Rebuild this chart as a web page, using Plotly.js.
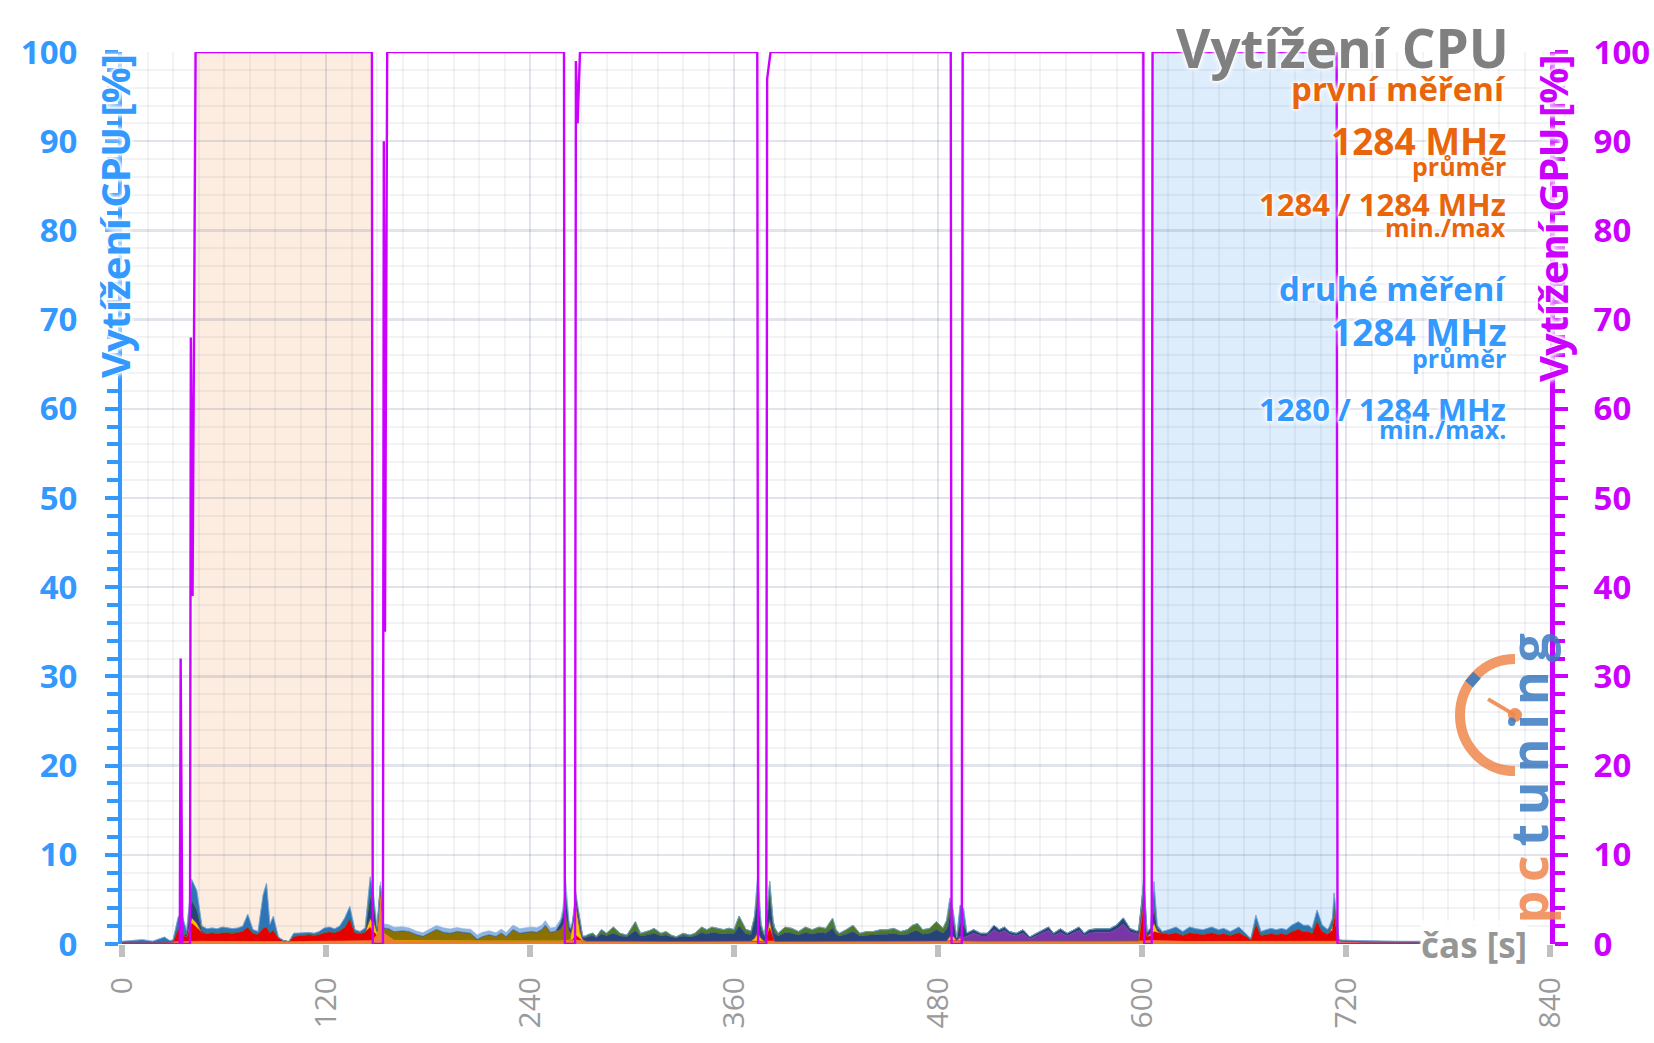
<!DOCTYPE html>
<html><head><meta charset="utf-8">
<script src="https://cdn.plot.ly/plotly-3.0.1.min.js"></script>
<style>html,body{margin:0;padding:0;background:#fff;}#chart{width:1654px;height:1043px;}</style>
</head><body><div id="chart"></div>
<script>
// ---- axis ticks ----
const timeTicks = [0, 120, 240, 360, 480, 600, 720, 840];
const loadTicks = [0, 10, 20, 30, 40, 50, 60, 70, 80, 90, 100];

// ---- text ----
const chartTitle = 'Vytížení CPU';
const cpuAxisTitle = 'Vytížení CPU [%]';
const gpuAxisTitle = 'Vytížení GPU [%]';
const timeLabel = 'čas [s]';
const statsFirst = ['první měření', '1284 MHz', 'průměr', '1284 / 1284 MHz', 'min./max'];
const statsSecond = ['druhé měření', '1284 MHz', 'průměr', '1280 / 1284 MHz', 'min./max.'];

// ---- measured windows [start s, end s] ----
const firstRun = [42, 147];
const secondRun = [606, 714.5];

// ---- CPU load per-core stacked layers: [time s, load %] ----
const cpuOrange = [[0,.2],[10,.25],[20,.2],[30,.25],[36,.3],[42,.35],[50,.3],[60,.3],[70,.35],[80,.3],[90,.3],[100,.25],[110,.3],[120,.3],[130,.3],[140,.3],[147,.4],[150,1.0],[152,6.0],[154,1.2],[160,.4],[180,.35],[200,.3],[220,.35],[240,.3],[260,.35],[266,.5],[270,.35],[290,.3],[310,.3],[330,.3],[350,.3],[370,.35],[380,.3],[400,.3],[420,.3],[440,.3],[460,.3],[480,.3],[490,.4],[500,.3],[520,.3],[540,.3],[560,.3],[580,.3],[600,.35],[606,.4],[620,.3],[640,.3],[660,.3],[680,.3],[700,.3],[714,.35],[730,.25],[750,.2],[764,.2]];
const cpuRed = [[30,0],[33,1.5],[35,.8],[38,.5],[41,2.0],[44,1.5],[47,1.0],[50,.9],[53,1.0],[56,.9],[59,1.0],[62,1.0],[65,.9],[68,1.0],[71,1.1],[74,1.6],[77,.9],[80,.8],[83,1.5],[85,1.6],[87,1.0],[89,1.3],[92,.4],[95,.1],[98,0],[101,.6],[104,.7],[107,.7],[110,.8],[113,.7],[116,.8],[119,1.0],[122,1.1],[125,1.0],[128,1.2],[131,1.6],[134,2.6],[137,1.0],[140,.9],[143,1.0],[146,1.5],[148,.8],[150,0],[265,0],[267,.5],[269,.3],[271,0],[378,0],[381,1.5],[384,0],[598,0],[600,3.0],[601,4.5],[603,.5],[605,.5],[607,1.0],[609,.9],[612,.9],[616,.8],[620,1.0],[624,.7],[628,1.0],[632,.9],[636,.8],[641,1.0],[645,.8],[648,.9],[652,.7],[657,1.0],[661,.6],[664,.2],[667,2.0],[670,.7],[673,.8],[676,.9],[679,.8],[682,.9],[685,.8],[688,1.1],[692,1.4],[695,1.1],[698,1.1],[700,.9],[703,2.3],[706,1.1],[709,.8],[712,1.2],[713,3.0],[715,.5],[716,.05],[718,0]];
const cpuYellow = [[38,0],[41,.6],[44,.5],[47,0],[143,0],[146,1.0],[148,1.0],[150,0],[264,0],[267,3.0],[269,.6],[271,0],[370,0],[372,.3],[374,1.0],[376,.3],[378,0],[379,0],[381,1.0],[383,0],[485,0],[487,.5],[489,.5],[491,0],[493,.3],[495,0],[603,0],[605,.3],[607,1.0],[609,.2],[611,0],[710,0],[713,.8],[715,0]];
const cpuOlive = [[147,0],[150,.5],[154,.6],[157,.9],[161,1.0],[165,1.1],[169,1.0],[173,.7],[177,.5],[181,.9],[185,1.3],[189,1.0],[193,.9],[197,1.1],[201,1.0],[205,.9],[209,.2],[212,.5],[216,.7],[220,.5],[223,.9],[226,.5],[230,1.3],[234,.9],[237,1.0],[241,1.1],[244,1.0],[247,1.3],[249,1.8],[252,1.0],[255,1.1],[258,1.3],[260,2.0],[261,3.0],[263,1.0],[265,.6],[267,.5],[269,.8],[271,.2],[273,0]];
const cpuPurple = [[491,0],[494,.3],[497,.5],[501,.9],[505,.6],[509,.6],[513,1.3],[516,.9],[519,1.2],[522,.8],[526,.6],[530,.9],[534,.3],[538,.6],[542,.9],[545,1.2],[548,.6],[552,1.0],[556,.6],[560,.9],[563,1.2],[566,.6],[569,.9],[573,1.0],[577,1.0],[581,1.0],[585,1.3],[589,1.9],[593,1.0],[597,.8],[599,.5],[601,0]];
const cpuNavy = [[36,0],[38,.3],[41,2.0],[44,1.5],[47,.2],[50,0],[143,0],[146,2.5],[148,2.0],[150,0],[255,0],[259,1.0],[261,2.4],[263,.5],[265,.3],[267,1.0],[269,.8],[271,.2],[274,.5],[277,.6],[279,.4],[282,.8],[285,.6],[289,.9],[293,.6],[297,.5],[302,1.2],[305,.6],[309,.7],[313,.9],[317,.6],[320,.7],[323,.5],[326,.4],[330,.6],[334,.5],[337,.6],[341,1.0],[344,.8],[347,1.0],[350,.9],[354,.8],[357,.9],[360,.8],[363,1.7],[367,.8],[370,.7],[372,2.0],[374,4.0],[376,1.0],[378,.5],[381,2.5],[383,1.0],[386,.6],[390,1.0],[394,.9],[398,.7],[402,1.0],[406,.8],[410,1.0],[414,.9],[418,1.5],[420,.8],[422,.6],[426,.8],[430,1.1],[434,.6],[438,.7],[442,.7],[446,.8],[450,.8],[454,.9],[458,.7],[462,.8],[465,1.1],[468,1.2],[471,.8],[475,.9],[479,1.3],[483,.9],[486,1.5],[487,2.5],[489,1.5],[491,.2],[493,1.5],[495,1.5],[497,.4],[501,.4],[505,.3],[509,.3],[513,.5],[516,.4],[519,.4],[522,.3],[526,.3],[530,.4],[534,.2],[538,.3],[542,.4],[545,.4],[548,.3],[552,.4],[556,.3],[560,.4],[563,.4],[566,.3],[569,.4],[573,.4],[577,.4],[581,.4],[585,.5],[589,.7],[593,.4],[597,.3],[600,1.0],[601,2.0],[603,.3],[605,.5],[607,1.5],[609,.3],[612,0]];
const cpuGreen = [[270,0],[274,.2],[277,.3],[279,.1],[282,.5],[285,.3],[289,.7],[293,.3],[297,.2],[302,1.0],[305,.3],[309,.4],[313,.55],[317,.3],[320,.4],[323,.2],[326,.1],[330,.3],[334,.2],[337,.3],[341,.6],[344,.5],[347,.6],[350,.55],[354,.5],[357,.55],[360,.5],[363,1.1],[367,.5],[370,.4],[372,.4],[374,.5],[376,.5],[378,.2],[381,1.7],[383,.8],[386,.3],[390,.6],[394,.55],[398,.4],[402,.6],[406,.5],[410,.6],[414,.55],[418,1.1],[420,.5],[422,.3],[426,.5],[430,.7],[434,.3],[438,.4],[442,.4],[446,.5],[450,.5],[454,.55],[458,.4],[462,.5],[465,.7],[468,.8],[471,.5],[475,.55],[479,.9],[483,.55],[486,1.2],[487,1.0],[489,.8],[491,.1],[493,0]];
const cpuBlue = [[0,.1],[6,.15],[12,.25],[18,.1],[25,.55],[28,.15],[30,.2],[33,1.2],[35,2.5],[38,.4],[41,2.3],[44,2.15],[47,.5],[50,.5],[53,.5],[56,.5],[59,.6],[62,.5],[65,.5],[68,.45],[71,.55],[74,1.4],[77,.4],[80,.3],[83,3.7],[85,4.9],[87,.9],[89,1.5],[92,.1],[95,0],[98,0],[101,.35],[104,.25],[107,.25],[110,.2],[113,.2],[116,.3],[119,.5],[122,.5],[125,.4],[128,.5],[131,1.0],[134,1.3],[137,.3],[140,.2],[143,.45],[146,2.1],[148,.8],[150,.1],[152,0],[372,0],[374,1.9],[376,0],[485,0],[487,.8],[489,.5],[491,0],[493,2.0],[495,1.8],[497,0],[598,0],[600,.1],[601,.85],[603,.2],[605,.1],[607,3.1],[609,.3],[612,.15],[616,.5],[620,.6],[624,.4],[628,.6],[632,.5],[636,.5],[641,.6],[645,.5],[648,.55],[652,.4],[657,.6],[661,.3],[664,.1],[667,.9],[670,.4],[673,.5],[676,.55],[679,.5],[682,.55],[685,.5],[688,.7],[692,.8],[695,.7],[698,.7],[700,.55],[703,1.2],[706,.7],[709,.5],[712,.8],[713,1.55],[715,1.3],[716,.1],[720,.1],[740,.1],[764,.1]];
const cpuLightBlue = [[145,0],[150,.4],[160,.5],[170,.4],[180,.4],[190,.5],[200,.4],[210,.5],[220,.4],[230,.5],[240,.5],[250,.5],[258,.4],[261,1.5],[264,.3],[268,.4],[272,.1],[275,0]];

// ---- GPU load: [time s, load %] ----
const gpuLoad = [[0,0],[34,0],[34.5,32],[35.5,0],[40,0],[40.5,68],[41.5,39],[43.3,100],[147,100],[147.5,0],[153.5,0],[154,90],[154.7,35],[156,100],[260,100],[260.5,0],[266.5,0],[267,99],[268,92],[269.4,100],[373.7,100],[374.2,0],[379,0],[379.5,97],[381.5,100],[487.5,100],[488,0],[494,0],[494.5,100],[600.8,100],[601.3,0],[605.7,0],[606.2,100],[714.5,100],[715,0],[764,0]];

// ---- styling ----
const BLUE = '#3399ff', MAG = '#cc00ff', ORG = '#e8650c', GRAY = '#808080';
const FONT = 'Open Sans, Noto Sans, sans-serif';
const GLOW = '0 0 3px #fff, 0 0 3px #fff, 0 0 5px #fff, 0 0 6px #fff';
const GLOW_STRONG = '0 0 2px #fff, 0 0 3px #fff, 0 0 4px #fff, 0 0 5px #fff, 0 0 6px #fff, 0 0 7px #fff';
const GRID_MAJ = 'rgba(70,90,130,0.16)', GRID_MIN = 'rgba(70,90,130,0.07)';

const layers = [
  ['orange', cpuOrange, '#ed7d31'],
  ['red', cpuRed, '#e60000'],
  ['yellow', cpuYellow, '#ffc000'],
  ['olive', cpuOlive, '#8c7000'],
  ['purple', cpuPurple, '#7a35a8'],
  ['navy', cpuNavy, '#264478'],
  ['green', cpuGreen, '#4f7a2c'],
  ['blue', cpuBlue, '#2e75b6'],
  ['lightblue', cpuLightBlue, '#8fb4e0']
];

const traces = layers.map(([name, pts, col], i) => {
  const tr = {
    type: 'scatter', name: name,
    x: pts.map(p => p[0]), y: pts.map(p => p[1]),
    stackgroup: 'cpu', mode: 'lines',
    line: {width: 0.6, color: col, shape: 'linear'},
    fillcolor: col, hoverinfo: 'skip', xaxis: 'x', yaxis: 'y'
  };
  if (i === 0) tr.stackgaps = 'interpolate';
  return tr;
});
traces.push({
  type: 'scatter', name: 'GPU', mode: 'lines',
  x: gpuLoad.map(p => p[0]), y: gpuLoad.map(p => p[1]),
  line: {color: MAG, width: 2.4}, hoverinfo: 'skip', xaxis: 'x', yaxis: 'y2'
});

function statAnn(text, y, size, color) {
  return {text: text, xref: 'paper', yref: 'paper', x: 0.9706, y: y, xanchor: 'right', yanchor: 'middle',
    showarrow: false, font: {family: FONT, size: size, color: color, weight: 'bold', shadow: GLOW}};
}
const statY = [0.9593, 0.9010, 0.8719, 0.8293, 0.8035];
const statY2 = [0.7352, 0.6864, 0.6567, 0.6001, 0.5772];
const statSize = [33, 37, 25, 31, 25];

const annotations = [
  {text: chartTitle, xref: 'paper', yref: 'paper', x: 0.9725, y: 1.0053, xanchor: 'right', yanchor: 'middle',
   showarrow: false, font: {family: FONT, size: 53, color: GRAY, weight: 'bold', shadow: GLOW}},
  ...statsFirst.map((s, i) => statAnn(s, statY[i], statSize[i], ORG)),
  ...statsSecond.map((s, i) => statAnn(s, statY2[i], statSize[i], BLUE)),
  {text: cpuAxisTitle, xref: 'paper', yref: 'paper', x: 0, xshift: -8, y: 1, yanchor: 'top', xanchor: 'center',
   textangle: -90, showarrow: false, font: {family: FONT, size: 40, color: BLUE, weight: 'bold', shadow: GLOW_STRONG}},
  {text: gpuAxisTitle, xref: 'paper', yref: 'paper', x: 1, xshift: 2, y: 1, yanchor: 'top', xanchor: 'center',
   textangle: -90, showarrow: false, font: {family: FONT, size: 40, color: MAG, weight: 'bold', shadow: GLOW_STRONG}},
  {text: timeLabel, xref: 'paper', yref: 'paper', x: 0.9846, y: 0, xanchor: 'right', yanchor: 'middle',
   showarrow: false, bgcolor: 'rgba(255,255,255,0.9)', borderpad: 0,
   font: {family: FONT, size: 35, color: '#969696', weight: 'bold', shadow: GLOW}},
  {text: '<span style="color:#f0874e">p\u2009c\u2009</span><span style="color:#3b7bc0">t\u2009u\u2009n\u2009i\u2009n\u2009g</span>',
   xref: 'paper', yref: 'paper', x: 0.9842, y: 0.186, xanchor: 'center', yanchor: 'middle', textangle: -90,
   showarrow: false, opacity: 0.85, font: {family: FONT, size: 52, color: '#3b7bc0', weight: 'bold'}}
];

const shapes = [
  {type: 'rect', layer: 'below', xref: 'x', yref: 'y', x0: firstRun[0], x1: firstRun[1], y0: 0, y1: 100,
   fillcolor: '#fcede0', line: {width: 0}},
  {type: 'rect', layer: 'below', xref: 'x', yref: 'y', x0: secondRun[0], x1: secondRun[1], y0: 0, y1: 100,
   fillcolor: '#deedfc', line: {width: 0}},
  // logo gauge
  {type: 'path', xref: 'paper', yref: 'paper', xsizemode: 'pixel', ysizemode: 'pixel', xanchor: 0.9755, yanchor: 0.2566,
   path: 'M0,56 C-30.9,56 -55,30.9 -55,0 C-55,-30.9 -30.9,-56 0,-56', line: {color: 'rgba(240,135,78,0.85)', width: 10}},
  {type: 'path', xref: 'paper', yref: 'paper', xsizemode: 'pixel', ysizemode: 'pixel', xanchor: 0.9755, yanchor: 0.2566,
   path: 'M0,0 L-27,16', line: {color: 'rgba(240,135,78,0.9)', width: 4}},
  {type: 'circle', xref: 'paper', yref: 'paper', xsizemode: 'pixel', ysizemode: 'pixel', xanchor: 0.9755, yanchor: 0.2566,
   x0: -7, x1: 7, y0: -7, y1: 7, fillcolor: 'rgba(240,135,78,0.9)', line: {width: 0}},
  {type: 'path', xref: 'paper', yref: 'paper', xsizemode: 'pixel', ysizemode: 'pixel', xanchor: 0.9755, yanchor: 0.2566,
   path: 'M-38,40 L-46,31', line: {color: 'rgba(59,123,192,0.9)', width: 10}}
];

const yCommon = {range: [0, 100], tickmode: 'linear', tick0: loadTicks[0], dtick: loadTicks[1] - loadTicks[0], zeroline: false, fixedrange: true};

const layout = {
  width: 1654, height: 1043,
  margin: {l: 122, r: 104, t: 52, b: 99, pad: 0},
  paper_bgcolor: '#ffffff', plot_bgcolor: '#ffffff',
  showlegend: false, hovermode: false,
  font: {family: FONT},
  xaxis: {
    range: [0, 840], tickmode: 'linear', tick0: timeTicks[0], dtick: timeTicks[1] - timeTicks[0],
    ticks: 'outside', ticklen: 12, tickwidth: 6, tickcolor: '#c0c0c0',
    tickangle: -90, ticklabelstandoff: 8,
    tickfont: {family: FONT, size: 30, color: '#9a9a9a'},
    showgrid: true, gridcolor: GRID_MAJ, gridwidth: 2.5,
    minor: {dtick: 15, tick0: 0, showgrid: true, gridcolor: GRID_MIN, gridwidth: 2, ticks: ''},
    zeroline: false, showline: false, fixedrange: true
  },
  yaxis: Object.assign({}, yCommon, {
    side: 'left', ticks: 'outside', ticklen: 13, tickwidth: 4, tickcolor: BLUE,
    showline: true, linecolor: BLUE, linewidth: 4,
    showgrid: true, gridcolor: GRID_MAJ, gridwidth: 2.5,
    tickfont: {family: FONT, size: 33, color: BLUE, weight: 'bold'}, ticklabelstandoff: 21,
    minor: {dtick: 2, tick0: 0, ticks: 'outside', ticklen: 11, tickwidth: 4, tickcolor: BLUE,
            showgrid: true, gridcolor: GRID_MIN, gridwidth: 2}
  }),
  yaxis2: Object.assign({}, yCommon, {
    overlaying: 'y', side: 'right', anchor: 'x',
    ticks: 'outside', ticklen: 13, tickwidth: 4, tickcolor: MAG,
    showline: true, linecolor: MAG, linewidth: 5, showgrid: false,
    tickfont: {family: FONT, size: 33, color: MAG, weight: 'bold'}, ticklabelstandoff: 19,
    minor: {dtick: 2, tick0: 0, ticks: 'outside', ticklen: 10, tickwidth: 4, tickcolor: MAG, showgrid: false}
  }),
  yaxis3: Object.assign({}, yCommon, {
    overlaying: 'y', side: 'left', anchor: 'x', ticks: 'inside', ticklen: 12, tickwidth: 4, tickcolor: BLUE,
    showticklabels: false, showgrid: false, showline: false
  }),
  yaxis4: Object.assign({}, yCommon, {
    overlaying: 'y', side: 'right', anchor: 'x', ticks: 'inside', ticklen: 12, tickwidth: 4, tickcolor: MAG,
    showticklabels: false, showgrid: false, showline: false
  }),
  shapes: shapes,
  annotations: annotations
};

Plotly.newPlot('chart', traces, layout, {displayModeBar: false, staticPlot: true});
</script>
</body></html>
